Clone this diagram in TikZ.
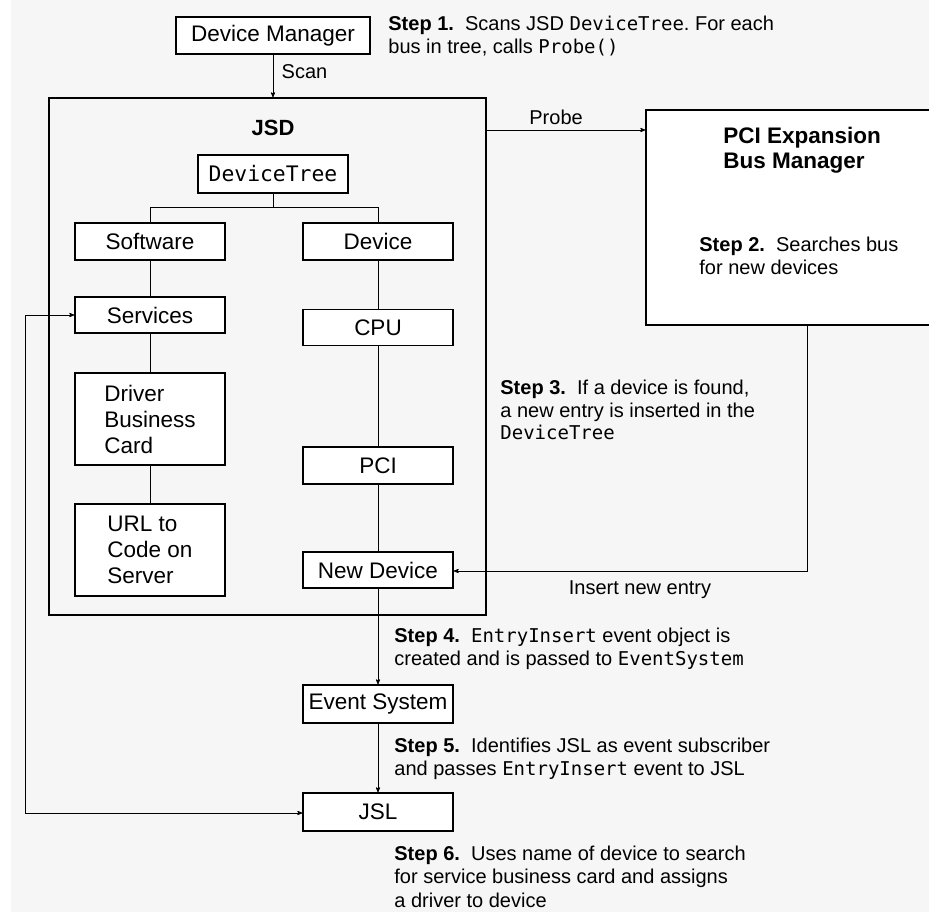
\documentclass[tikz,border=0pt]{standalone}
\usepackage{fontspec}
\setmainfont{Liberation Sans}
\setmonofont{DejaVu Sans Mono}[Scale=0.95]
\usetikzlibrary{arrows,positioning}
\frenchspacing

\begin{document}
\begin{tikzpicture}[x=1pt, y=-1pt, >=stealth', line width=0.8pt,
  box/.style={draw, fill=white, line width=1.5pt, minimum width=150, minimum height=37, inner sep=0pt, font=\fontsize{22.5}{26}\selectfont},
  note/.style={anchor=west, align=left, inner sep=0pt, font=\fontsize{20}{23}\selectfont},
  lbl/.style={font=\fontsize{20}{23}\selectfont}]
\useasboundingbox (0,0) rectangle (929,912);
\clip (0,0) rectangle (929,912);
\fill[gray!7] (11,0) rectangle (929,912);
% JSD and the bus manager
\node[draw, line width=1.5pt, minimum width=437, minimum height=517, inner sep=0pt] (jsd) at (267.5,356.5) {};
\node[draw, fill=white, line width=1.5pt, minimum width=354, minimum height=215, inner sep=0pt] (pcibus) at (823,217.5) {};
\node[font=\fontsize{22}{26}\selectfont\bfseries] (jsdlabel) at (273,128) {JSD};
\node[note, font=\fontsize{22.5}{25}\selectfont\bfseries] (pcilabel) at (723,150.5) {PCI Expansion\\Bus Manager};
\node[note] (step2) at (699,256) {\textbf{Step 2.}\ \ Searches bus\\for new devices};
% boxes
\node[box, minimum width=194] (dm) at (273,35.5) {Device Manager};
\node[box, minimum height=38, font=\fontsize{22.5}{26}\ttfamily] (tree) at (273,174) {DeviceTree};
\node[box] (soft) at (150,241.5) {Software};
\node[box] (dev) at (378,241.5) {Device};
\node[box, minimum height=36] (serv) at (150,315) {Services};
\node[box, minimum height=36] (cpu) at (378,327.5) {CPU};
\node[box, minimum height=92, align=left] (card) at (150,419) {Driver\\Business\\Card};
\node[box] (pci) at (378,465.5) {PCI};
\node[box, minimum height=92, align=left] (url) at (150,550) {URL to\\Code on\\Server};
\node[box, minimum height=36] (newdev) at (378,570) {New Device};
\node[box, minimum height=38] (evsys) at (378,704) {Event System};
\node[box, minimum height=38] (jsl) at (378,812) {JSL};
% steps
\node[note] (step1) at (388,36.5) {\textbf{Step 1.}\ \ Scans JSD \texttt{DeviceTree}. For each\\bus in tree, calls \texttt{Probe()}};
\node[note, font=\fontsize{20}{22.5}\selectfont] (step3) at (500,410) {\textbf{Step 3.}\ \ If a device is found,\\a new entry is inserted in the\\\texttt{DeviceTree}};
\node[note] (step4) at (394,648.5) {\textbf{Step 4.}\ \ \texttt{EntryInsert} event object is\\created and is passed to \texttt{EventSystem}};
\node[note] (step5) at (394,758.5) {\textbf{Step 5.}\ \ Identifies JSL as event subscriber\\and passes \texttt{EntryInsert} event to JSL};
\node[note, font=\fontsize{20}{23.5}\selectfont] (step6) at (394,876.5) {\textbf{Step 6.}\ \ Uses name of device to search\\for service business card and assigns\\a driver to device};
% connectors
\draw[->] (dm) -- node[lbl, right=5pt, pos=0.4] {Scan} (dm |- jsd.north);
\draw (tree) -- ++(0,33) -| (soft);
\draw (tree) -- ++(0,33) -| (dev);
\draw (soft) -- (serv) -- (card) -- (url);
\draw (dev) -- (cpu) -- (pci) -- (newdev);
\draw[->] (newdev) -- (evsys);
\draw[->] (evsys) -- (jsl);
\coordinate (probe) at (486,130);
\draw[->] (probe) -- node[lbl, above=2pt, pos=0.44] {Probe} (probe -| pcibus.west);
\coordinate (ins) at (807,571);
\draw[->] (ins |- pcibus.south) -- (ins) -- (newdev.east |- ins);
\node[lbl] (inslabel) at (640,590) {Insert new entry};
\coordinate (loop) at (25,813);
\draw[<->] (serv.west) -| (loop) -- (jsl.west |- loop);
\end{tikzpicture}
\end{document}
